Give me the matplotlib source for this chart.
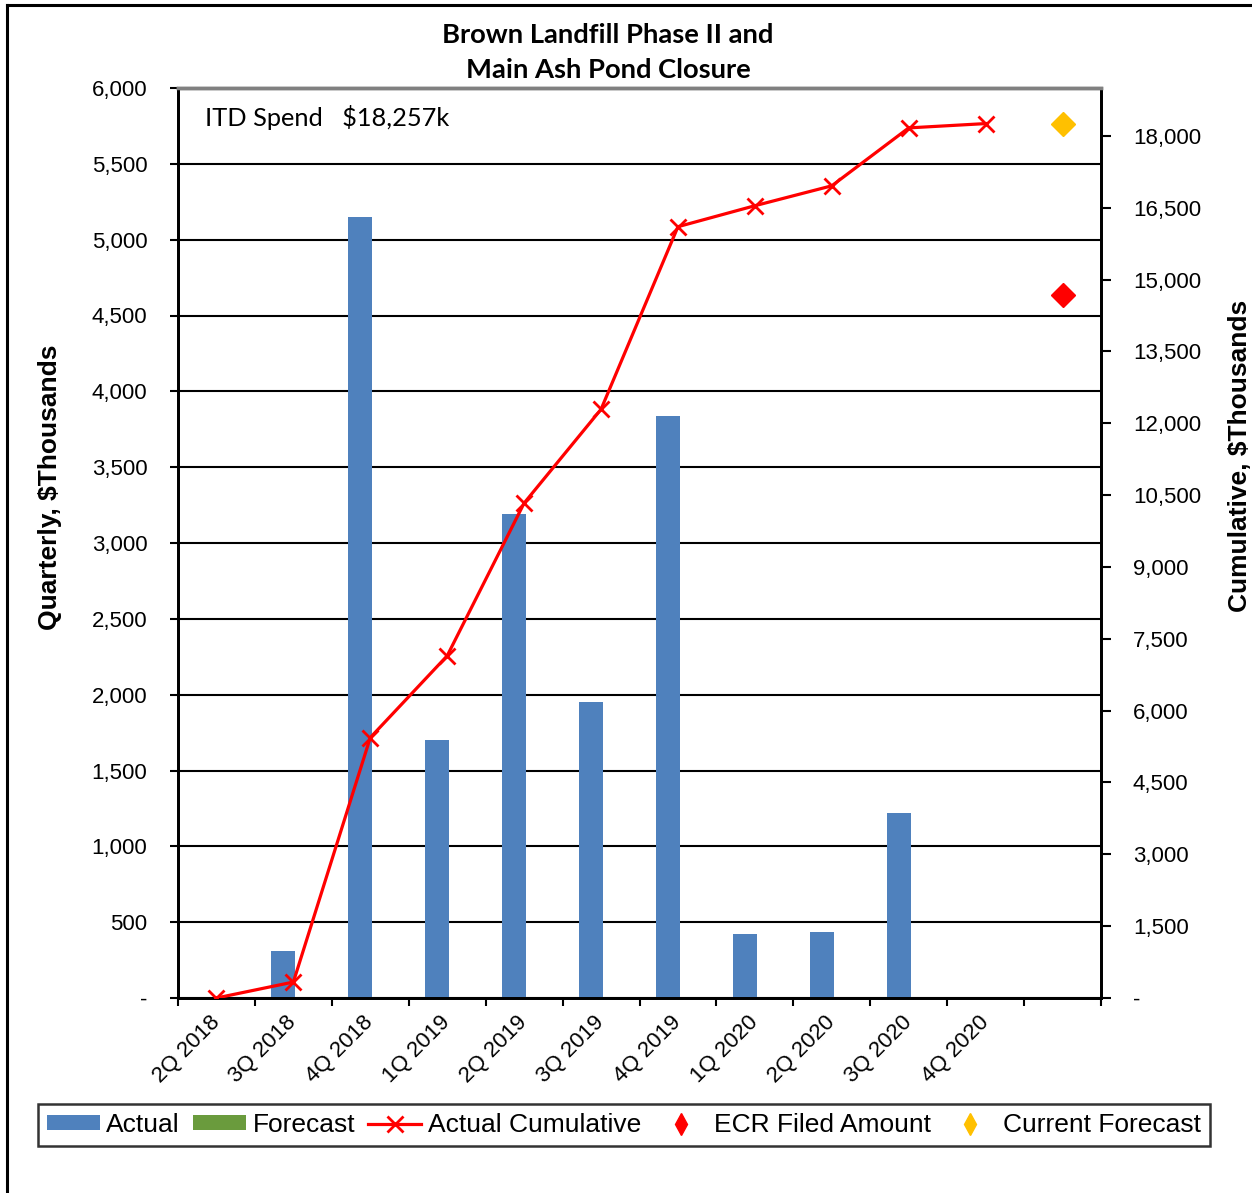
import matplotlib
matplotlib.use('Agg')
import matplotlib.pyplot as plt
from matplotlib.lines import Line2D
from matplotlib.patches import Patch
from matplotlib.ticker import FuncFormatter
import numpy as np

quarters = ['2Q 2018', '3Q 2018', '4Q 2018', '1Q 2019', '2Q 2019', '3Q 2019',
            '4Q 2019', '1Q 2020', '2Q 2020', '3Q 2020', '4Q 2020']
actual = [0, 310, 5150, 1700, 3190, 1950, 3835, 422, 435, 1220, 0]
forecast = [0, 0, 0, 0, 0, 0, 0, 0, 0, 0, 0]
actual_cumulative = [0, 333, 5437, 7146, 10333, 12292, 16104, 16542, 16958, 18167, 18257]
ecr_filed_amount = [14688]
current_forecast = [18257]
title_lines = ['Brown Landfill Phase II and', 'Main Ash Pond Closure']
itd_label = 'ITD Spend   $18,257k'

plt.rcParams['font.family'] = ['Liberation Sans', 'DejaVu Sans']

W, H = 1252, 1193
fig = plt.figure(figsize=(W / 100, H / 100), dpi=100)
ax = fig.add_axes([178 / W, (H - 998) / H, 923 / W, 910 / H])
ax2 = ax.twinx()

n = len(quarters)
x = np.arange(n)
extra_x = [n]  # slot after last quarter for the diamonds

blue = '#4F81BD'
green = '#6A9B3D'
ax.bar(x - 0.13, actual, width=0.31, color=blue, zorder=2)
ax.bar(x + 0.18, forecast, width=0.31, color=green, zorder=2)

ax.set_xlim(-0.5, n + 0.5)
ax.set_ylim(0, 6000)
ax2.set_ylim(0, 19000)

ax2.plot(x, actual_cumulative, color='#FF0000', lw=2.3, marker='x', ms=12, mew=2.0, zorder=5)
ax2.plot(extra_x, ecr_filed_amount, ls='none', marker='D', ms=12.5, color='#FF0000', zorder=5)
ax2.plot(extra_x, current_forecast, ls='none', marker='D', ms=12.5, color='#FFC000', zorder=5)

fmt = FuncFormatter(lambda v, p: '-' if v == 0 else f'{v:,.0f}')
ax.set_yticks(np.arange(0, 6001, 500))
ax.yaxis.set_major_formatter(fmt)
ax2.set_yticks(np.arange(0, 18001, 1500))
ax2.yaxis.set_major_formatter(fmt)

ax.tick_params(axis='y', direction='out', length=6, width=1.5, labelsize=16, pad=16)
ax2.tick_params(axis='y', direction='out', length=7, width=1.5, labelsize=16, pad=16)

ax.set_xticks(np.arange(-0.5, n + 0.6, 1))
ax.set_xticklabels([])
ax.set_xticks(x, minor=True)
ax.set_xticklabels(quarters, minor=True, rotation=45, ha='right', va='center',
                   rotation_mode='anchor', fontsize=16)
ax.tick_params(axis='x', which='major', direction='out', length=6, width=1.5)
ax.tick_params(axis='x', which='minor', length=0, pad=15)

ax.yaxis.grid(True, color='black', lw=1.5)
ax.set_axisbelow(True)

for a in (ax, ax2):
    for s in ('left', 'right', 'bottom'):
        a.spines[s].set_color('black')
        a.spines[s].set_linewidth(2)
    a.spines['top'].set_color('#808080')
    a.spines['top'].set_linewidth(2.5)

ax.text((205 - 178) / 923, (998 - 117) / 910, itd_label, transform=ax.transAxes,
        ha='left', va='center', fontsize=18.3, family=['Lato', 'DejaVu Sans'])

fig.text(608 / W, 1 - 35 / H, title_lines[0], ha='center', va='center', fontsize=19.7,
         fontweight='bold', family=['Lato', 'DejaVu Sans'])
fig.text(608 / W, 1 - 70 / H, title_lines[1], ha='center', va='center', fontsize=19.7,
         fontweight='bold', family=['Lato', 'DejaVu Sans'])

fig.text(50 / W, 1 - 487 / H, 'Quarterly, $Thousands', rotation=90, ha='center', va='center',
         fontsize=19, fontweight='bold')
fig.text(1240 / W, 1 - 456 / H, 'Cumulative, $Thousands', rotation=90, ha='center', va='center',
         fontsize=19, fontweight='bold')

handles = [
    Patch(facecolor=blue),
    Patch(facecolor=green),
    Line2D([], [], color='#FF0000', lw=2.3, marker='x', ms=12, mew=2),
    Line2D([], [], ls='none', marker='d', ms=11, color='#FF0000'),
    Line2D([], [], ls='none', marker='d', ms=11, color='#FFC000'),
]
labels = ['Actual', 'Forecast', 'Actual Cumulative', 'ECR Filed Amount', 'Current Forecast']
leg = fig.legend(handles, labels, loc='center', bbox_to_anchor=(624 / W, 1 - 1125 / H),
                 ncol=5, fontsize=19, frameon=True, fancybox=False, edgecolor='black',
                 handlelength=2.0, handletextpad=0.25, columnspacing=0.5, borderpad=0.35,
                 handleheight=0.5, borderaxespad=0)
leg.get_frame().set_linewidth(1.8)

# outer chart border
fig.add_artist(Line2D([7 / W, 7 / W], [0, 1 - 5 / H], transform=fig.transFigure,
                      color='black', lw=2.2))
fig.add_artist(Line2D([7 / W, 1], [1 - 5 / H, 1 - 5 / H], transform=fig.transFigure,
                      color='black', lw=2.2))

fig.savefig('out.png', dpi=100)
